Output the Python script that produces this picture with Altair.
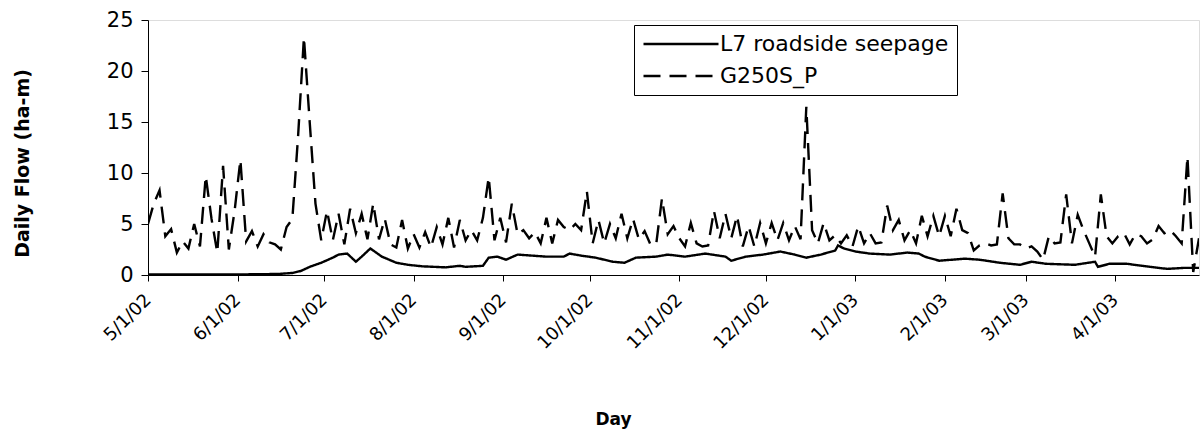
import altair as alt
import pandas as pd

# ---- data (days counted from 5/1/02) ----
series_names = ["L7 roadside seepage", "G250S_P"]

# G250S_P : one value every 2 days, days 0..364
g250_step = 2
g250_values = [
    5.0, 7.0, 8.3, 3.8, 4.5, 2.2, 3.3, 2.6, 5.0, 2.8,
    9.7, 5.5, 2.2, 10.7, 2.5, 6.3, 11.3, 3.3, 4.3, 2.8,
    4.0, 3.2, 3.0, 2.5, 4.7, 5.5, 13.7, 23.3, 15.0, 7.0,
    3.4, 6.3, 3.4, 6.0, 3.0, 6.5, 4.1, 6.0, 3.5, 7.0,
    3.5, 5.5, 3.0, 2.7, 5.4, 2.6, 4.0, 2.7, 4.2, 2.7,
    4.7, 3.0, 5.6, 2.7, 5.4, 3.4, 4.4, 3.4, 5.6, 9.6,
    3.4, 5.6, 3.2, 7.0, 4.0, 4.4, 3.6, 4.2, 3.1, 5.6,
    3.1, 5.4, 4.7, 4.4, 5.0, 4.4, 8.2, 3.1, 5.4, 3.1,
    5.0, 3.6, 6.0, 3.6, 5.5, 3.5, 4.3, 3.0, 3.0, 7.5,
    4.0, 4.8, 3.6, 2.8, 5.1, 3.1, 2.8, 2.9, 6.3, 3.6,
    6.0, 3.6, 5.8, 2.8, 4.8, 2.8, 5.1, 3.1, 5.1, 3.4,
    5.1, 3.4, 4.8, 3.5, 16.5, 4.4, 3.1, 5.1, 3.4, 3.9,
    3.1, 3.9, 2.8, 4.8, 3.1, 4.1, 3.1, 3.2, 6.8, 4.4,
    5.4, 3.4, 4.4, 3.1, 5.8, 3.8, 5.8, 3.8, 5.8, 3.8,
    6.5, 4.4, 4.1, 2.4, 2.9, 3.1, 2.9, 3.0, 8.0, 3.6,
    3.0, 3.0, 2.6, 2.8, 2.3, 1.5, 3.8, 3.1, 3.2, 7.9,
    3.1, 5.9, 4.4, 3.1, 1.8, 7.9, 3.8, 3.1, 3.8, 4.1,
    3.0, 4.0, 3.8, 3.1, 3.5, 4.8, 4.1, 4.4, 3.8, 3.1,
    11.6, 0.3, 3.6,
]

# L7 roadside seepage : irregular read-off points
l7_days = [0, 30, 45, 50, 53, 56, 60, 64, 66, 69, 72, 74, 77, 81, 86, 90, 95,
           103, 108, 110, 116, 118, 121, 124, 128, 133, 138, 144, 146, 150, 155,
           161, 165, 169, 176, 180, 186, 193, 200, 202, 207, 213, 219, 224, 228,
           233, 238, 239, 241, 245, 250, 257, 263, 267, 269, 274, 283, 288, 295,
           302, 306, 311, 321, 328, 329, 333, 339, 347, 353, 359, 364]
l7_values = [0.05, 0.05, 0.1, 0.2, 0.4, 0.8, 1.2, 1.7, 2.0, 2.1, 1.3, 1.8, 2.6, 1.8,
             1.2, 1.0, 0.85, 0.75, 0.9, 0.8, 0.9, 1.7, 1.8, 1.5, 2.0, 1.9, 1.8, 1.8,
             2.1, 1.9, 1.7, 1.3, 1.2, 1.7, 1.8, 2.0, 1.8, 2.1, 1.8, 1.4, 1.8, 2.0,
             2.3, 2.0, 1.7, 2.0, 2.4, 2.9, 2.6, 2.3, 2.1, 2.0, 2.2, 2.1, 1.8, 1.4,
             1.6, 1.5, 1.2, 1.0, 1.3, 1.1, 1.0, 1.3, 0.8, 1.1, 1.1, 0.8, 0.6, 0.7, 0.7]

tick_labels = ["5/1/02", "6/1/02", "7/1/02", "8/1/02", "9/1/02", "10/1/02",
               "11/1/02", "12/1/02", "1/1/03", "2/1/03", "3/1/03", "4/1/03"]
y_ticks = [0, 5, 10, 15, 20, 25]

start = pd.Timestamp("2002-05-01")
tick_days = [(pd.to_datetime(t, format="%m/%d/%y") - start).days for t in tick_labels]

rows = []
for i, v in enumerate(g250_values):
    rows.append({"day": i * g250_step, "flow": v, "series": series_names[1], "ord": i})
for i, (d, v) in enumerate(zip(l7_days, l7_values)):
    rows.append({"day": d, "flow": v, "series": series_names[0], "ord": i})
df = pd.DataFrame(rows)

label_map = "{" + ",".join(f"'{d}':'{t}'" for d, t in zip(tick_days, tick_labels)) + "}"

FONT = "DejaVu Sans"
W, H = 1051, 255

chart = alt.Chart(df).mark_line(color="black", strokeWidth=2.4, clip=True).encode(
    x=alt.X("day:Q",
            scale=alt.Scale(domain=[0, 364], nice=False, zero=False),
            axis=alt.Axis(values=tick_days, labelExpr=f"{label_map}[datum.value + '']",
                          labelAngle=-45, labelAlign="right", labelBaseline="middle",
                          labelPadding=16, tickSize=6, grid=False,
                          labelFontSize=18, labelFont=FONT, labelColor="black",
                          domainColor="black", tickColor="black",
                          title="Day", titleFont=FONT, titleFontSize=17,
                          titleFontWeight="bold", titleColor="black",
                          titleX=465, titleY=144, titleAnchor="middle",
                          titleBaseline="middle")),
    y=alt.Y("flow:Q",
            scale=alt.Scale(domain=[0, 25], nice=False),
            axis=alt.Axis(values=y_ticks, tickSize=7, grid=False,
                          labelFontSize=21, labelFont=FONT, labelColor="black",
                          labelPadding=8,
                          domainColor="black", tickColor="black",
                          title="Daily Flow (ha-m)", titleFont=FONT, titleFontSize=19,
                          titleFontWeight="bold", titleColor="black",
                          titleX=-126, titleY=143, titleAngle=270,
                          titleAlign="center", titleBaseline="middle")),
    strokeDash=alt.StrokeDash(
        "series:N",
        scale=alt.Scale(domain=series_names, range=[[1, 0], [17, 9]]),
        legend=alt.Legend(title=None, orient="none", legendX=486, legendY=5,
                          symbolType="M-10,0H10", symbolSize=56.25,
                          symbolOffset=28,
                          symbolStrokeWidth=2.4, symbolStrokeColor="black",
                          labelFont=FONT, labelFontSize=22, labelColor="black",
                          labelOffset=28, labelLimit=400,
                          strokeColor="black", fillColor="white",
                          padding=8, rowPadding=10)),
    order="ord:Q",
    detail="series:N",
).properties(
    width=W, height=H,
    autosize=alt.AutoSizeParams(type="none"),
    padding={"left": 148, "top": 20, "right": 3, "bottom": 156},
).configure_view(stroke=None).configure(background="white")

chart.save("out.html", embed_options={"renderer": "svg", "actions": False})
